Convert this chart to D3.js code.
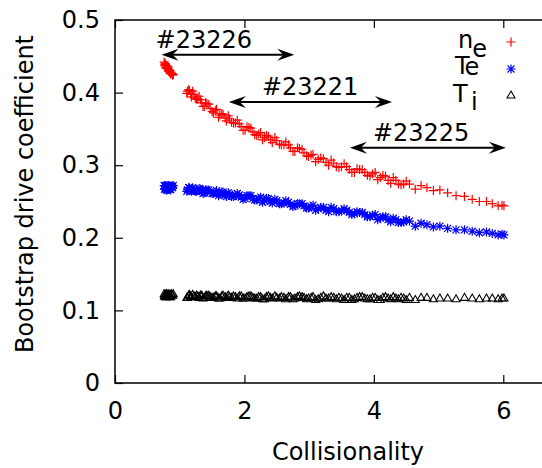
<!DOCTYPE html>
<html><head><meta charset="utf-8">
<script src="https://cdn.jsdelivr.net/npm/d3@7"></script>
<style>body{margin:0;background:#fff}svg{display:block}text{font-family:"DejaVu Sans",sans-serif;fill:#000}</style>
</head><body><svg id="c" width="542" height="468"></svg>
<script>
// shot-sample set A
const collisionality = [0.76,0.77,0.78,0.79,0.80,0.81,0.82,0.83,0.84,0.85,0.86,0.88,0.90,
1.11,1.14,1.17,1.20,1.24,1.28,1.32,1.36,1.40,1.45,1.50,1.55,1.60,1.65,1.70,1.75,1.80,1.86,1.92,1.98,
2.04,2.10,2.16,2.22,2.28,2.34,2.40,2.47,2.54,2.61,2.68,2.75,2.82,2.89,2.96,3.03,3.10,3.18,3.26,3.34,3.42,3.50,
3.58,3.66,3.74,3.82,3.90,3.98,4.06,4.14,4.22,4.30,4.38,4.46,4.55,4.64,4.73,4.82,4.92,5.02,5.14,5.27,5.40,5.52,
5.63,5.74,5.83,5.92,5.98,6.01];
const neCoef = [0.442,0.437,0.439,0.434,0.437,0.433,0.435,0.430,0.430,0.430,0.426,0.426,0.425,
0.399,0.404,0.398,0.402,0.392,0.391,0.390,0.381,0.386,0.384,0.374,0.375,0.366,0.371,0.365,0.368,0.359,0.358,0.357,0.348,
0.353,0.351,0.342,0.343,0.335,0.341,0.335,0.338,0.329,0.328,0.328,0.319,0.324,0.322,0.313,0.314,0.305,0.310,0.304,0.307,0.298,0.298,
0.298,0.290,0.295,0.294,0.286,0.288,0.280,0.286,0.279,0.283,0.274,0.274,0.274,0.267,0.272,0.269,0.265,0.266,0.262,0.258,0.257,0.253,
0.250,0.250,0.247,0.244,0.245,0.244];
const teCoef = [0.272,0.267,0.270,0.266,0.271,0.268,0.272,0.267,0.269,0.271,0.266,0.271,0.272,
0.264,0.269,0.266,0.269,0.264,0.265,0.267,0.261,0.266,0.266,0.261,0.263,0.258,0.263,0.259,0.262,0.257,0.258,0.259,0.253,
0.258,0.258,0.252,0.254,0.249,0.254,0.250,0.253,0.247,0.248,0.249,0.243,0.247,0.247,0.241,0.243,0.238,0.242,0.238,0.242,0.236,0.237,
0.238,0.232,0.236,0.235,0.229,0.231,0.225,0.229,0.225,0.227,0.221,0.222,0.223,0.216,0.220,0.218,0.215,0.216,0.213,0.211,0.211,0.209,
0.207,0.208,0.206,0.204,0.205,0.204];
const tiCoef = [0.123,0.120,0.122,0.119,0.122,0.121,0.123,0.120,0.121,0.122,0.119,0.122,0.123,
0.118,0.121,0.120,0.122,0.119,0.120,0.121,0.117,0.120,0.121,0.118,0.120,0.117,0.120,0.119,0.121,0.118,0.119,0.120,0.117,
0.119,0.120,0.117,0.119,0.116,0.119,0.118,0.120,0.117,0.118,0.119,0.116,0.119,0.119,0.116,0.118,0.115,0.118,0.117,0.119,0.116,0.117,
0.118,0.115,0.118,0.119,0.116,0.118,0.115,0.118,0.117,0.119,0.116,0.117,0.118,0.115,0.118,0.118,0.116,0.117,0.117,0.116,0.118,0.117,
0.116,0.117,0.117,0.116,0.117,0.117];
// shot-sample set B (dense region)
const collisionalityB = [0.765,0.775,0.785,0.795,0.805,0.815,0.825,0.835,0.845,0.855,0.87,0.89,
1.12,1.15,1.18,1.22,1.26,1.30,1.34,1.38,1.42,1.47,1.52,1.57,1.62,1.67,1.72,1.77,1.83,1.89,1.95,2.01,
2.07,2.13,2.19,2.25,2.31,2.37,2.43,2.50,2.57,2.64,2.71,2.78,2.85,2.92,2.99,3.06,3.14,3.22,3.30,3.38,3.46,3.54,
3.62,3.70,3.78,3.86,3.94,4.02,4.10,4.18,4.26,4.34,4.42,4.50];
const neCoefB = [0.438,0.440,0.435,0.437,0.433,0.435,0.430,0.432,0.428,0.426,0.428,0.424,
0.402,0.403,0.394,0.398,0.391,0.395,0.386,0.381,0.385,0.378,0.372,0.377,0.369,0.370,0.361,0.364,0.358,0.362,0.353,0.348,
0.352,0.346,0.341,0.345,0.338,0.340,0.331,0.334,0.328,0.332,0.324,0.319,0.323,0.317,0.312,0.315,0.308,0.309,0.300,0.303,0.297,0.302,
0.294,0.290,0.294,0.290,0.285,0.290,0.283,0.285,0.275,0.279,0.273,0.278];
const teCoefB = [0.267,0.272,0.268,0.271,0.266,0.270,0.267,0.272,0.268,0.267,0.271,0.269,
0.266,0.269,0.264,0.267,0.264,0.268,0.264,0.262,0.266,0.263,0.261,0.265,0.260,0.263,0.257,0.260,0.257,0.261,0.256,0.254,
0.258,0.254,0.252,0.256,0.251,0.254,0.248,0.251,0.247,0.251,0.246,0.244,0.247,0.244,0.241,0.245,0.240,0.242,0.236,0.240,0.236,0.240,
0.235,0.233,0.235,0.232,0.229,0.232,0.227,0.229,0.222,0.225,0.221,0.225];
const tiCoefB = [0.120,0.122,0.119,0.123,0.120,0.121,0.122,0.119,0.122,0.120,0.123,0.121,
0.118,0.122,0.119,0.120,0.121,0.118,0.121,0.118,0.121,0.119,0.118,0.120,0.117,0.121,0.118,0.119,0.120,0.117,0.120,0.117,
0.120,0.118,0.117,0.119,0.116,0.120,0.117,0.118,0.119,0.116,0.119,0.117,0.120,0.118,0.117,0.119,0.116,0.120,0.117,0.118,0.118,0.115,
0.118,0.116,0.119,0.117,0.116,0.118,0.115,0.119,0.116,0.117,0.118,0.115];

const xTicks = [0,2,4,6];
const yTicks = [0,0.1,0.2,0.3,0.4,0.5];
const shotLabels = ["#23226","#23221","#23225"];
const shotFrom = [0.72,1.76,3.63];
const shotTo = [2.77,4.28,6.04];
const shotLevel = [0.452,0.387,0.324];
const seriesColors = ["#ff0000","#0000ff","#000000"];

const svg = d3.select("#c");
const x = d3.scaleLinear().domain([0,7]).range([115,568]);
const y = d3.scaleLinear().domain([0,0.5]).range([383,20]);

const ax = svg.append("g").attr("transform","translate(0,383)")
  .call(d3.axisBottom(x).tickValues(xTicks).tickFormat(d3.format("d")).tickSizeInner(-8).tickSizeOuter(0).tickPadding(19));
const ay = svg.append("g").attr("transform","translate(115,0)")
  .call(d3.axisLeft(y).tickValues(yTicks).tickFormat(d=>d===0?"0":d3.format(".1f")(d)).tickSizeInner(-8).tickSizeOuter(0).tickPadding(15));
const at = svg.append("g").attr("transform","translate(0,20)")
  .call(d3.axisTop(x).tickValues(xTicks).tickFormat("").tickSizeInner(-8).tickSizeOuter(0));
[ax,ay,at].forEach(g=>{g.select(".domain").remove();g.selectAll("line").attr("stroke","#000").attr("stroke-width",1.2);
  g.selectAll("text").style("font-size","24px").style("font-family","DejaVu Sans");});
svg.append("path").attr("d",`M${x(7)},${y(0.5)}H${x(0)}V${y(0)}H${x(7)}`).attr("fill","none").attr("stroke","#000").attr("stroke-width",1.5);

svg.append("text").attr("x",348).attr("y",460).attr("text-anchor","middle").style("font-size","24px").text("Collisionality");
svg.append("text").attr("transform","translate(33,194) rotate(-90)").attr("text-anchor","middle").style("font-size","24px").text("Bootstrap drive coefficient");

function drawMarker(g, kind, cx, cy, color){
  if(kind===0){
    g.append("path").attr("d",`M${cx-4.5},${cy}H${cx+4.5}M${cx},${cy-4.5}V${cy+4.5}`).attr("stroke",color).attr("stroke-width",1.2).attr("fill","none");
  } else if(kind===1){
    g.append("path").attr("d",`M${cx-4.5},${cy}H${cx+4.5}M${cx},${cy-4.5}V${cy+4.5}M${cx-3.5},${cy-3.5}L${cx+3.5},${cy+3.5}M${cx-3.5},${cy+3.5}L${cx+3.5},${cy-3.5}`).attr("stroke",color).attr("stroke-width",1.2).attr("fill","none");
  } else {
    g.append("path").attr("d",`M${cx},${cy-4}L${cx+4},${cy+3}L${cx-4},${cy+3}Z`).attr("stroke",color).attr("stroke-width",1.1).attr("fill","none");
  }
}
const setA = [neCoef, teCoef, tiCoef];
const setB = [neCoefB, teCoefB, tiCoefB];
const pts = svg.append("g");
[0,1,2].forEach(k=>{
  const g = pts.append("g");
  setA[k].forEach((v,i)=>drawMarker(g,k,x(collisionality[i]),y(v),seriesColors[k]));
  setB[k].forEach((v,i)=>drawMarker(g,k,x(collisionalityB[i]),y(v),seriesColors[k]));
});

function arrowHead(g, px, py, dir){
  g.append("path").attr("d",`M${px},${py}L${px-dir*17},${py-6}L${px-dir*11},${py}L${px-dir*17},${py+6}Z`).attr("fill","#000");
}
const labelShift = [-6, 33, 23];
shotLabels.forEach((lab,i)=>{
  const g = svg.append("g");
  const x1 = x(shotFrom[i]), x2 = x(shotTo[i]), yy = y(shotLevel[i]);
  g.append("line").attr("x1",x1+8).attr("x2",x2-8).attr("y1",yy).attr("y2",yy).attr("stroke","#000").attr("stroke-width",2);
  arrowHead(g,x1,yy,-1); arrowHead(g,x2,yy,1);
  g.append("text").attr("x",x1+labelShift[i]).attr("y",yy-7).style("font-size","24px").text(lab);
});

const leg = svg.append("g");
const legRows = [42,69,95];
const t1 = leg.append("text").attr("x",458).attr("y",48).style("font-size","24px");
t1.append("tspan").text("n"); t1.append("tspan").attr("dy",9).attr("dx",-1).text("e");
const t2 = leg.append("text").attr("x",455).attr("y",74).style("font-size","24px");
t2.append("tspan").text("T"); t2.append("tspan").attr("dx",-1).attr("dy",1).text("e");
const t3 = leg.append("text").attr("x",453).attr("y",102).style("font-size","24px");
t3.append("tspan").text("T"); t3.append("tspan").attr("dx",4).attr("dy",8).text("i");
[0,1,2].forEach(k=>drawMarker(leg,k,511,legRows[k],seriesColors[k]));
</script></body></html>
